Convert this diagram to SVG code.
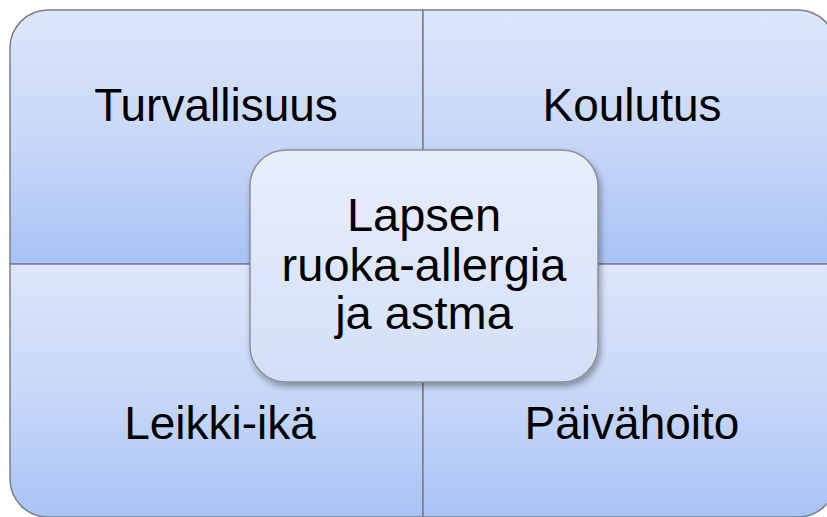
<svg xmlns="http://www.w3.org/2000/svg" width="827" height="517" viewBox="0 0 827 517">
  <defs>
    <linearGradient id="quadFill" x1="0" y1="0" x2="0" y2="1">
      <stop offset="0" stop-color="#dde6fb"/>
      <stop offset="0.5" stop-color="#c9d8f8"/>
      <stop offset="1" stop-color="#a8c3f6"/>
    </linearGradient>
    <linearGradient id="centerFill" x1="0" y1="0" x2="0" y2="1">
      <stop offset="0" stop-color="#e8eefc"/>
      <stop offset="1" stop-color="#d4e0f9"/>
    </linearGradient>
    <filter id="shadow" x="-10%" y="-10%" width="125%" height="130%">
      <feDropShadow dx="2" dy="4" stdDeviation="3" flood-color="#000" flood-opacity="0.35"/>
    </filter>
  </defs>
  <style>
    .quad { fill: url(#quadFill); stroke: #7a7f88; stroke-width: 1.5; }
    .label { font-family: "Liberation Sans", Arial, sans-serif; font-size: 46px; fill: #000; text-anchor: middle; }
    .hub { fill: url(#centerFill); stroke: #8a8f98; stroke-width: 1.5; }
  </style>

  <rect width="827" height="517" fill="#ffffff"/>

  <!-- top-left quadrant -->
  <g id="turvallisuus">
    <path class="quad" d="M10,264 V48 A38,38 0 0 1 48,10 H423 V264 Z"/>
    <text class="label" x="216" y="121">Turvallisuus</text>
  </g>

  <!-- top-right quadrant -->
  <g id="koulutus">
    <path class="quad" d="M423,10 H798 A38,38 0 0 1 836,48 V264 H423 Z"/>
    <text class="label" x="632" y="121">Koulutus</text>
  </g>

  <!-- bottom-left quadrant -->
  <g id="leikki-ika">
    <path class="quad" d="M10,264 H423 V517 H48 A38,38 0 0 1 10,479 Z"/>
    <text class="label" x="220" y="439">Leikki-ikä</text>
  </g>

  <!-- bottom-right quadrant -->
  <g id="paivahoito">
    <path class="quad" d="M423,264 H836 V479 A38,38 0 0 1 798,517 H423 Z"/>
    <text class="label" x="632" y="439">Päivähoito</text>
  </g>

  <!-- central topic -->
  <g id="keskus">
    <rect class="hub" x="250" y="150" width="348" height="232" rx="36" ry="36" filter="url(#shadow)"/>
    <text class="label" font-size="47" x="424" y="231" style="font-size:47px">Lapsen</text>
    <text class="label" x="424" y="281" style="font-size:47px">ruoka-allergia</text>
    <text class="label" x="424" y="329" style="font-size:47px">ja astma</text>
  </g>

  <g id="connectors"/>
</svg>
